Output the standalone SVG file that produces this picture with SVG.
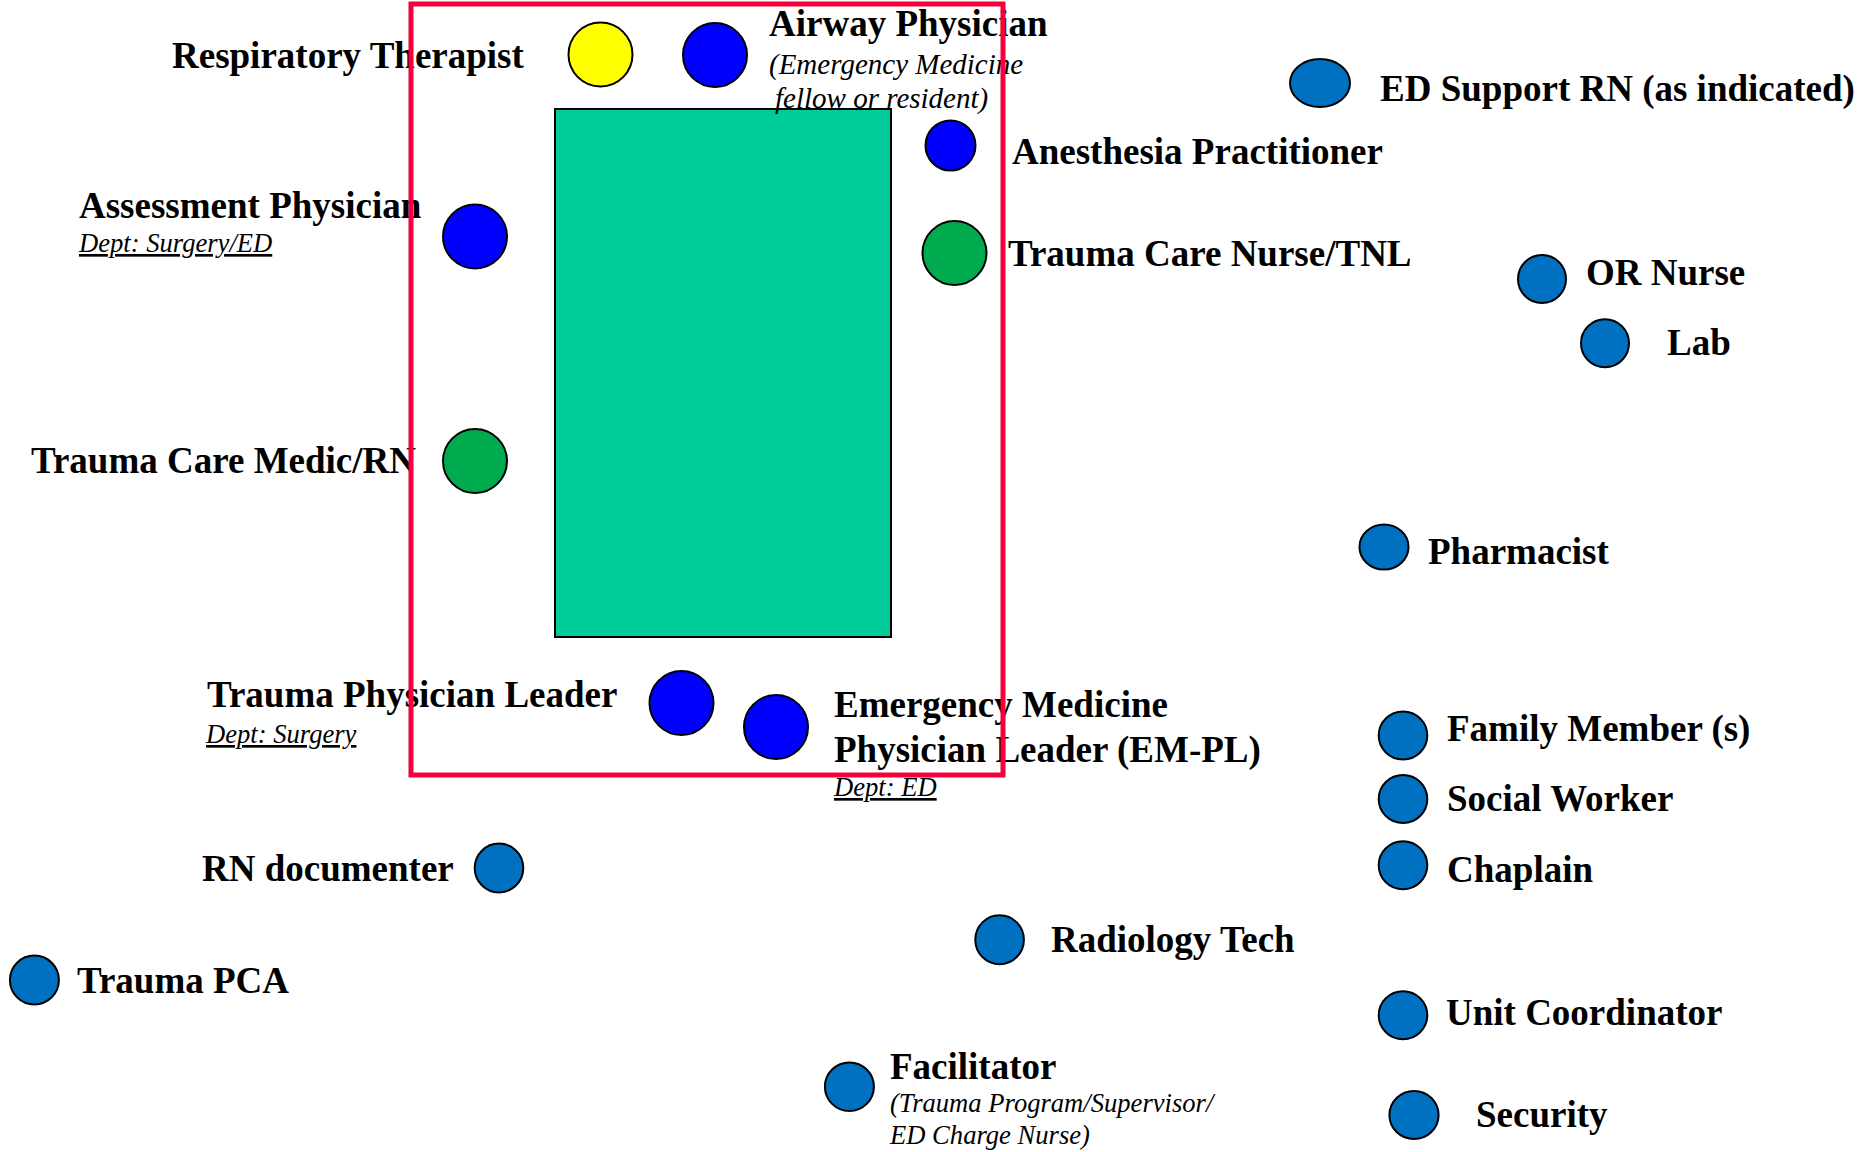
<svg xmlns="http://www.w3.org/2000/svg" width="1864" height="1152" viewBox="0 0 1864 1152">
<style>
.lbl{font-family:"Liberation Serif","Times New Roman",serif;font-weight:bold;font-size:37px;fill:#000}
.sub{font-family:"Liberation Serif","Times New Roman",serif;font-style:italic;font-size:26.6px;fill:#000}
.subl{font-family:"Liberation Serif","Times New Roman",serif;font-style:italic;font-size:29px;fill:#000}
.ul{text-decoration:underline}
.e{stroke:#000;stroke-width:2}
.lb{fill:#0070C0}
.db{fill:#0000FF}
.ye{fill:#FFFF00}
.gr{fill:#00AA4F}
</style>
<rect width="1864" height="1152" fill="#fff"/>
<g id="bed"><rect x="555" y="109" width="336" height="528" fill="#00CC99" stroke="#000" stroke-width="2"/></g>

<g id="respiratory-therapist"><ellipse class="e ye" cx="600.5" cy="54.5" rx="32" ry="32"/><text class="lbl" x="172" y="68">Respiratory Therapist</text></g>
<g id="airway-physician"><ellipse class="e db" cx="715" cy="55" rx="32" ry="32"/><text class="lbl" x="769" y="36">Airway Physician</text><text class="subl" x="769" y="74">(Emergency Medicine</text><text class="subl" x="775" y="108">fellow or resident)</text></g>
<g id="anesthesia-practitioner"><ellipse class="e db" cx="950.5" cy="145.5" rx="25" ry="25"/><text class="lbl" x="1012" y="164">Anesthesia Practitioner</text></g>
<g id="ed-support-rn"><ellipse class="e lb" cx="1320" cy="83" rx="30" ry="24"/><text class="lbl" x="1380" y="101">ED Support RN (as indicated)</text></g>
<g id="assessment-physician"><ellipse class="e db" cx="475" cy="236.5" rx="32" ry="32"/><text class="lbl" x="79" y="218">Assessment Physician</text><text class="sub ul" x="79" y="252">Dept: Surgery/ED</text></g>
<g id="trauma-care-nurse"><ellipse class="e gr" cx="954.5" cy="253" rx="32" ry="32"/><text class="lbl" x="1008" y="266">Trauma Care Nurse/TNL</text></g>
<g id="or-nurse"><ellipse class="e lb" cx="1542" cy="279" rx="24" ry="24"/><text class="lbl" x="1586" y="285">OR Nurse</text></g>
<g id="lab"><ellipse class="e lb" cx="1605" cy="343.3" rx="24" ry="24"/><text class="lbl" x="1667" y="355">Lab</text></g>
<g id="trauma-care-medic"><ellipse class="e gr" cx="475" cy="461" rx="32" ry="32"/><text class="lbl" x="31" y="473">Trauma Care Medic/RN</text></g>
<g id="pharmacist"><ellipse class="e lb" cx="1384" cy="547" rx="24.5" ry="22.5"/><text class="lbl" x="1428" y="564">Pharmacist</text></g>
<g id="trauma-physician-leader"><ellipse class="e db" cx="681.5" cy="703" rx="32" ry="32"/><text class="lbl" x="207" y="707">Trauma Physician Leader</text><text class="sub ul" x="206" y="743">Dept: Surgery</text></g>
<g id="em-physician-leader"><ellipse class="e db" cx="776" cy="727" rx="32" ry="32"/><text class="lbl" x="834" y="717">Emergency Medicine</text><text class="lbl" x="834" y="762">Physician Leader (EM-PL)</text><text class="sub ul" x="834" y="796">Dept: ED</text></g>
<g id="family-member"><ellipse class="e lb" cx="1403" cy="735.5" rx="24.3" ry="24"/><text class="lbl" x="1447" y="741">Family Member (s)</text></g>
<g id="social-worker"><ellipse class="e lb" cx="1403" cy="799" rx="24.3" ry="24"/><text class="lbl" x="1447" y="811">Social Worker</text></g>
<g id="chaplain"><ellipse class="e lb" cx="1403" cy="865.3" rx="24.3" ry="24"/><text class="lbl" x="1447" y="882">Chaplain</text></g>
<g id="rn-documenter"><ellipse class="e lb" cx="499" cy="868" rx="24.3" ry="24.5"/><text class="lbl" x="202" y="881">RN documenter</text></g>
<g id="radiology-tech"><ellipse class="e lb" cx="999.6" cy="939.7" rx="24.3" ry="24.5"/><text class="lbl" x="1051" y="952">Radiology Tech</text></g>
<g id="trauma-pca"><ellipse class="e lb" cx="34.4" cy="980" rx="24.5" ry="24.5"/><text class="lbl" x="77" y="993">Trauma PCA</text></g>
<g id="unit-coordinator"><ellipse class="e lb" cx="1403" cy="1015.2" rx="24.3" ry="24"/><text class="lbl" x="1446" y="1025">Unit Coordinator</text></g>
<g id="facilitator"><ellipse class="e lb" cx="849.4" cy="1086.7" rx="24.5" ry="24.3"/><text class="lbl" x="890" y="1079">Facilitator</text><text class="sub" x="890" y="1112">(Trauma Program/Supervisor/</text><text class="sub" x="890" y="1144">ED Charge Nurse)</text></g>
<g id="security"><ellipse class="e lb" cx="1414" cy="1115" rx="24.6" ry="24"/><text class="lbl" x="1476" y="1127">Security</text></g>

<g id="trauma-bay"><rect x="411" y="4" width="592" height="771" fill="none" stroke="#F5003A" stroke-width="5"/></g>
</svg>
